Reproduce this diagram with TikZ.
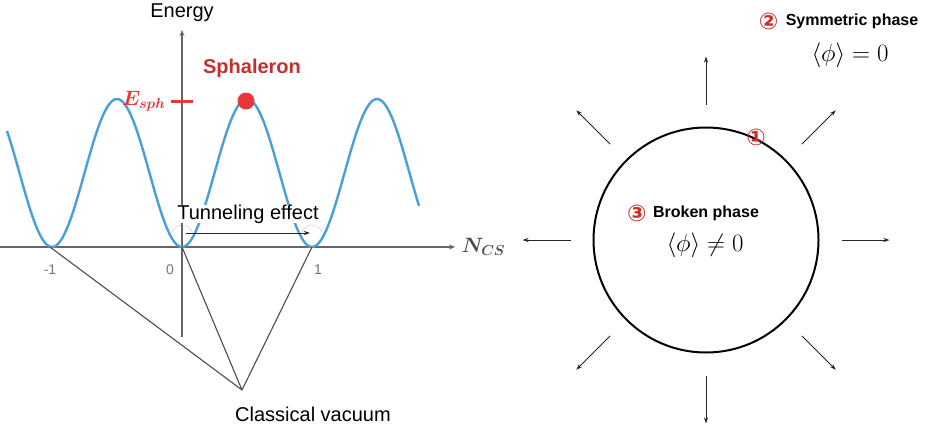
\documentclass[tikz,border=0pt]{standalone}
\usepackage{amsmath}
\usepackage{fontspec}
\setsansfont{Liberation Sans}
\newfontfamily\symfont{DejaVu Sans}
\usetikzlibrary{arrows.meta, positioning}
\definecolor{curveblue}{HTML}{4A9FD6}
\definecolor{sphred}{HTML}{E8363A}
\definecolor{darkred}{HTML}{C4302B}
\tikzstyle{axis} = [line width=1.2pt, draw=black!60, -{Stealth[length=6pt,width=5pt]}]
\tikzstyle{arrow} = [line width=0.9pt, draw=black!85, -{Stealth[length=6pt,width=4pt]}]

\begin{document}
\begin{tikzpicture}[x=1pt, y=-1pt,
        lbl/.style={font=\sffamily\fontsize{20}{24}\selectfont, inner sep=1pt},
        num/.style={font=\symfont\bfseries\fontsize{23}{25}\selectfont, text=darkred, inner sep=0pt},
        phase/.style={font=\sffamily\bfseries\fontsize{16}{19}\selectfont, inner sep=1pt},
        vev/.style={font=\fontsize{24}{28}\selectfont, inner sep=0pt},
        tick/.style={font=\sffamily\fontsize{14}{16}\selectfont, text=black!55},
        link/.style={line width=1.1pt, draw=black!70}
        ]
        \useasboundingbox (0,0) rectangle (944,429);

        % energy landscape
        \coordinate (xstart) at (0,247);
        \coordinate (xend) at (455,247);
        \coordinate (ybot) at (182,337);
        \coordinate (ytop) at (182,30);
        \coordinate (minm) at (50,247);
        \coordinate (min0) at (182,247);
        \coordinate (min1) at (312,247);
        \coordinate (cv) at (242,390);

        \draw[axis] (xstart) -- (xend);
        \draw[axis] (ybot) -- (ytop);
        \node[lbl] (energy) at (182,13) {Energy};
        \node[font=\fontsize{21}{23}\selectfont, text=black!70, right=3pt of xend] (ncs) {$\boldsymbol{N_{CS}}$};

        \draw[curveblue, line width=2.4pt] plot[domain=7:419, samples=200] (\x, {247-74*(1-cos(2.76923*(\x-182)))});

        \node[tick] (tm) at (50,270) {-1};
        \node[tick] (t0) at (170,270) {0};
        \node[tick] (t1) at (318,270) {1};

        \draw[link] (minm) -- (cv);
        \draw[link] (min0) -- (cv);
        \draw[link] (min1) -- (cv);
        \node[lbl] (cvlabel) at (313,414) {Classical vacuum};

        % sphaleron
        \coordinate (esphL) at (171,101);
        \coordinate (esphR) at (193,101);
        \draw[sphred, line width=3pt] (esphL) -- (esphR);
        \node[font=\fontsize{21}{23}\selectfont, text=sphred, left=2pt of esphL] (esph) {$\boldsymbol{E_{sph}}$};
        \node[circle, fill=sphred, minimum size=17pt, inner sep=0pt] (sph) at (246,101) {};
        \node[font=\sffamily\bfseries\fontsize{20}{24}\selectfont, text=darkred] (sphlabel) at (252,68) {Sphaleron};

        % tunneling
        \node[lbl, fill=white, inner sep=0pt] (tun) at (248,214) {Tunneling effect};
        \coordinate (arc0) at (182,236);
        \coordinate (arc1) at (312,236);
        \draw[black!40, densely dotted, line width=0.6pt] ([shift={(20:11pt)}]arc0) arc[start angle=20, end angle=160, radius=11pt];
        \draw[black!40, densely dotted, line width=0.6pt] ([shift={(20:11pt)}]arc1) arc[start angle=20, end angle=160, radius=11pt];
        \coordinate (tunA) at (186,233);
        \coordinate (tunB) at (310,233);
        \draw[arrow] (tunA) -- (tunB);

        % bubble
        \node[circle, draw, line width=2pt, minimum size=225pt, inner sep=0pt] (bubble) at (706,240) {};
        \foreach \a in {0,45,...,315}
            \draw[arrow] ([shift={(\a:22pt)}]bubble.\a) -- ([shift={(\a:70pt)}]bubble.\a);

        \node[phase] (sym) at (852,21) {Symmetric phase};
        \node[num, left=6pt of sym] (n2) {②};
        \node[vev] (symvev) at (850,55) {$\langle\phi\rangle = 0$};
        \node[num] (n1) at (756,137) {①};
        \node[phase] (broken) at (706,213) {Broken phase};
        \node[num, left=5pt of broken] (n3) {③};
        \node[vev] (brokenvev) at (705,245) {$\langle\phi\rangle \neq 0$};

    \end{tikzpicture}
\end{document}
